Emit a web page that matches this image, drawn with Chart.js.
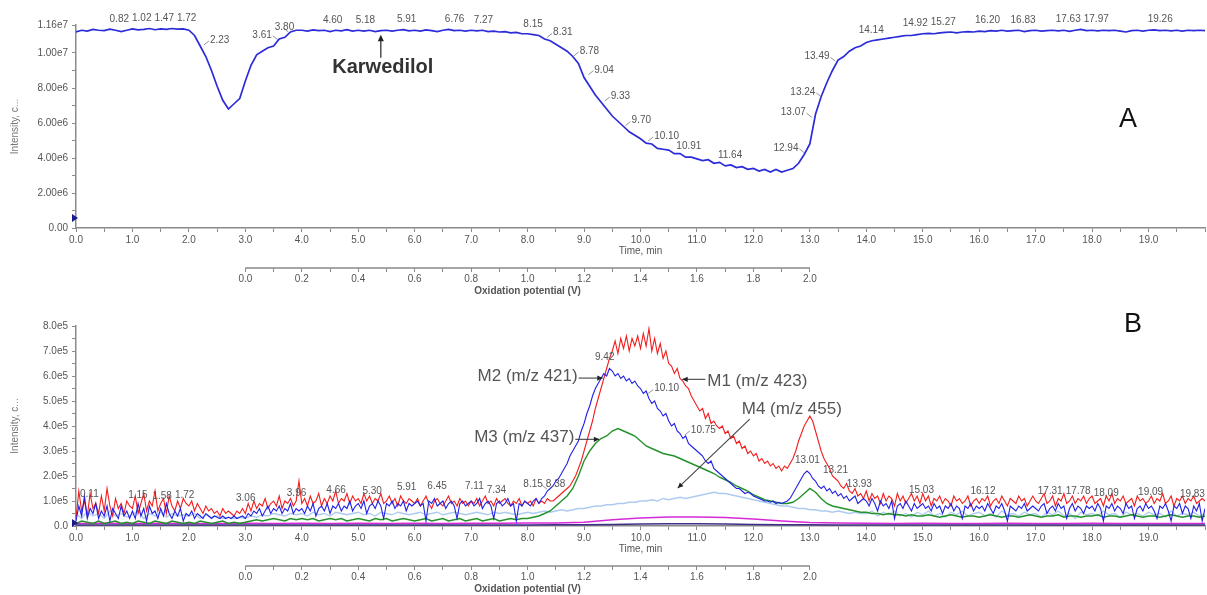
<!DOCTYPE html>
<html>
<head>
<meta charset="utf-8">
<script src="https://cdn.jsdelivr.net/npm/chart.js@4.4.1/dist/chart.umd.min.js"></script>
<style>
  body { margin: 0; background: #fff; }
  #wrap { position: relative; width: 1207px; height: 595px; }
  canvas { position: absolute; left: 0; }
</style>
</head>
<body>
<div id="wrap">
  <canvas id="panelA" width="1207" height="298" style="top:0"></canvas>
  <canvas id="panelB" width="1207" height="297" style="top:298px"></canvas>
</div>
<script>
// time grids the traces were read at (min)
function sampleTimes(step) {
  const n = Math.round(20 / step);
  return Array.from({ length: n + 1 }, (_, i) => +(i * step).toFixed(2));
}
const timesA = sampleTimes(0.1);
const timesFine = sampleTimes(0.05);
const timesB = sampleTimes(0.1);
const timesCoarse = sampleTimes(0.5);

// panel A: karwedilol trace, intensity in 1e6 counts
const karwedilolTrace = [
  11.2, 11.3, 11.25, 11.35, 11.3, 11.28, 11.36, 11.3, 11.22, 11.3,
  11.38, 11.32, 11.35, 11.4, 11.33, 11.38, 11.35, 11.4, 11.36, 11.38,
  11.3, 11.0, 10.4, 9.8, 9.0, 8.1, 7.3, 6.8, 7.1, 7.4,
  8.4, 9.3, 9.9, 10.1, 10.3, 10.4, 10.8, 10.9, 11.2, 11.3,
  11.3, 11.25, 11.32, 11.28, 11.3, 11.22, 11.3, 11.27, 11.33, 11.25,
  11.3, 11.25, 11.3, 11.22, 11.28, 11.3, 11.25, 11.3, 11.34, 11.27,
  11.3, 11.25, 11.32, 11.28, 11.22, 11.3, 11.35, 11.28, 11.3, 11.25,
  11.3, 11.26, 11.3, 11.22, 11.25, 11.2, 11.22, 11.15, 11.18, 11.1,
  11.1, 11.05, 11.0, 10.8, 10.7, 10.5, 10.3, 10.1, 9.8, 9.4,
  8.6, 8.1, 7.6, 7.2, 6.8, 6.4, 6.1, 5.8, 5.5, 5.3,
  5.1, 4.85, 4.8, 4.55, 4.5, 4.45, 4.25, 4.25, 4.05, 4.05,
  3.95, 3.85, 3.9, 3.7, 3.75, 3.55, 3.6, 3.45, 3.5, 3.35,
  3.4, 3.25, 3.35, 3.2, 3.35, 3.2, 3.3, 3.4, 3.7, 4.2,
  4.8, 6.5, 7.5, 8.3, 9.0, 9.6, 9.8, 10.1, 10.3, 10.4,
  10.6, 10.7, 10.75, 10.8, 10.85, 10.9, 10.95, 11.0, 11.0, 11.05,
  11.1, 11.12, 11.1, 11.15, 11.18, 11.2, 11.15, 11.2, 11.22, 11.2,
  11.25, 11.22, 11.28, 11.25, 11.3, 11.25, 11.28, 11.3, 11.22, 11.28,
  11.3, 11.25, 11.28, 11.3, 11.26, 11.3, 11.24, 11.3, 11.35, 11.28,
  11.3, 11.26, 11.3, 11.28, 11.3, 11.25, 11.2, 11.28, 11.3, 11.25,
  11.3, 11.32, 11.28, 11.3, 11.27, 11.3, 11.25, 11.3, 11.28, 11.3,
  11.28
];
const peakLabelsA = [0.82, 1.02, 1.47, 1.72, 2.23, 3.61, 3.80, 4.60, 5.18, 5.91, 6.76, 7.27,
  8.15, 8.31, 8.78, 9.04, 9.33, 9.70, 10.10, 10.91, 11.64, 12.94, 13.07, 13.24, 13.49,
  14.14, 14.92, 15.27, 16.20, 16.83, 17.63, 17.97, 19.26];
const karwedilolTime = 5.4;

// panel B: metabolite traces, intensity in 1e5 counts
const m1Red = [
  0.3, 1.4, 0.6, 1.0, 0.4, 1.3, 0.7, 0.9, 0.5, 1.2, 0.6, 1.5, 0.8, 0.4, 1.1, 0.7, 0.9, 0.5, 1.0, 0.8,
  0.7, 1.2, 0.5, 0.9, 1.3, 0.6, 1.0, 0.8, 1.4, 0.6, 0.9, 1.1, 0.5, 1.2, 0.8, 0.6, 1.0, 0.7, 1.1, 0.9,
  0.8, 1.0, 0.6, 0.9, 0.7, 0.5, 0.8, 0.6, 0.7, 0.5, 0.6, 0.4, 0.7, 0.5, 0.6, 0.5, 0.4, 0.6, 0.5, 0.7,
  0.5, 0.9, 0.6, 1.0, 0.7, 0.9, 0.8, 1.1, 0.7, 0.9, 1.0, 0.8, 1.2, 0.7, 1.0, 0.9, 1.1, 0.8, 1.0, 1.8,
  0.9, 1.1, 0.8, 1.2, 0.9, 1.0, 1.3, 0.8, 1.1, 0.9, 1.2, 1.0, 1.4, 0.9, 1.1, 1.0, 1.3, 0.9, 1.2, 1.0,
  1.1, 0.9, 1.3, 1.0, 1.2, 0.9, 1.1, 1.0, 1.3, 0.9, 1.0, 1.2, 0.9, 1.1, 0.8, 1.2, 1.0, 0.9, 1.1, 1.0,
  0.9, 1.1, 0.8, 1.0, 1.2, 0.9, 0.7, 1.0, 1.1, 0.9, 0.8, 1.0, 1.2, 0.9, 1.0, 0.8, 1.1, 0.9, 1.0, 0.8,
  1.0, 0.9, 1.1, 0.8, 1.0, 1.2, 0.9, 1.0, 0.8, 1.1, 0.9, 1.0, 1.1, 0.9, 0.8, 1.0, 0.9, 1.1, 0.8, 1.0,
  0.9, 1.0, 0.8, 1.1, 0.9, 1.0, 0.9, 1.1, 1.0, 1.0, 1.1, 1.2, 1.3, 1.4, 1.5, 1.6, 1.8, 2.0, 2.3, 2.6,
  3.0, 3.4, 3.8, 4.2, 4.7, 5.1, 5.5, 5.9, 6.3, 6.7, 7.0, 7.4, 6.9, 7.5, 7.1, 7.6, 7.0, 7.5, 7.2, 7.6,
  7.1, 7.7, 7.2, 7.9, 7.0, 7.5, 6.9, 7.3, 6.7, 7.0, 6.5, 6.4, 6.1, 6.3, 5.9, 5.8, 5.6, 5.5, 5.2, 5.0,
  4.8, 4.6, 4.7, 4.3, 4.5, 4.1, 4.2, 4.0, 3.9, 4.0, 3.7, 3.8, 3.5, 3.6, 3.3, 3.4, 3.1, 3.2, 2.9, 3.0,
  2.8, 2.9, 2.6, 2.7, 2.5, 2.6, 2.4, 2.5, 2.3, 2.4, 2.2, 2.4, 2.3, 2.5, 2.7, 3.0, 3.4, 3.7, 4.0, 4.2,
  4.4, 4.2, 3.8, 3.4, 3.0, 2.7, 2.5, 2.3, 2.0, 1.9, 1.8, 1.6, 1.5, 1.7, 1.4, 1.3, 1.5, 1.2, 1.3, 1.1,
  1.4, 1.0, 1.3, 1.1, 1.2, 0.9, 1.3, 1.0, 1.2, 1.1, 0.8, 1.3, 1.0, 1.2, 0.9, 1.1, 1.3, 1.0, 1.2, 0.9,
  1.3, 1.0, 1.2, 0.8, 1.1, 1.0, 1.2, 0.9, 1.1, 1.0, 0.8, 1.2, 1.0, 1.1, 0.9, 1.0, 1.2, 0.8, 1.0, 1.1,
  0.9, 1.1, 1.0, 1.2, 0.8, 1.0, 1.1, 0.9, 1.2, 1.0, 0.8, 1.1, 1.0, 0.9, 1.2, 1.0, 1.1, 0.8, 1.0, 1.2,
  1.0, 0.9, 1.1, 1.3, 0.9, 1.0, 1.2, 0.8, 1.1, 1.0, 1.3, 0.9, 1.0, 1.2, 0.9, 1.1, 1.0, 1.2, 0.9, 1.1,
  1.2, 0.9, 1.0, 1.1, 0.8, 1.2, 1.0, 1.3, 0.9, 1.1, 1.0, 1.2, 0.9, 1.0, 1.1, 0.8, 1.2, 1.0, 1.1, 0.9,
  1.0, 1.2, 0.9, 1.1, 1.0, 1.3, 0.9, 1.0, 1.2, 0.8, 1.1, 1.0, 1.2, 0.9, 1.1, 1.0, 1.2, 0.9, 1.0, 1.1,
  1.0
];
const m2Blue = [
  0.2, 0.8, 0.4, 1.2, 0.3, 0.7, 0.5, 0.9, 0.3, 0.6, 0.4, 0.8, 0.2, 0.7, 0.5, 0.3, 0.8, 0.4, 0.6, 0.3,
  0.6, 0.3, 0.9, 0.4, 0.7, 0.2, 0.8, 0.5, 0.6, 0.3, 0.7, 0.4, 0.9, 0.5, 0.3, 0.6, 0.4, 0.7, 0.2, 0.5,
  0.4, 0.6, 0.3, 0.5, 0.4, 0.3, 0.5, 0.4, 0.3, 0.4, 0.35, 0.3, 0.4, 0.3, 0.35, 0.3, 0.4, 0.3, 0.35, 0.4,
  0.3, 0.5, 0.4, 0.6, 0.5, 0.7, 0.4, 0.6, 0.8, 0.5, 0.7, 0.6, 0.8, 0.5, 0.7, 0.6, 0.9, 0.5, 0.7, 0.6,
  0.7, 0.5, 0.8, 0.6, 0.9, 0.4, 0.7, 0.8, 0.6, 0.9, 0.5, 0.8, 0.7, 0.9, 0.6, 0.8, 0.7, 1.0, 0.6, 0.8,
  0.9, 0.7, 1.0, 0.5, 0.8, 0.9, 0.7, 1.0, 0.8, 0.3, 0.9, 0.8, 1.0, 0.7, 0.9, 0.8, 1.0, 0.6, 0.9, 0.8,
  0.9, 1.0, 0.8, 0.9, 0.2, 1.0, 0.9, 1.1, 0.8, 0.9, 1.0, 0.7, 0.9, 1.0, 0.8, 0.3, 0.9, 1.0, 0.8, 0.9,
  1.0, 0.8, 0.9, 1.1, 0.7, 0.9, 1.0, 0.8, 0.3, 0.9, 1.0, 0.8, 0.9, 1.1, 0.8, 0.9, 0.2, 0.9, 0.8, 1.0,
  0.9, 0.8, 1.0, 1.1, 0.9, 1.1, 1.2, 1.4, 1.5, 1.6, 1.8, 1.9, 2.1, 2.3, 2.5, 2.8, 3.0, 3.2, 3.4, 3.8,
  4.1, 4.5, 4.8, 5.2, 5.5, 5.7, 5.9, 6.1, 6.0, 6.3, 6.2, 6.0, 6.1, 5.9, 6.0, 5.8, 5.9, 5.7, 5.8, 5.6,
  5.5, 5.3, 5.4, 5.1, 4.9, 5.0, 4.7, 4.6, 4.4, 4.5, 4.2, 4.0, 4.1, 3.8, 3.7, 3.5, 3.6, 3.3, 3.2, 3.1,
  3.0, 2.9, 2.8, 2.6, 2.5, 2.6, 2.3, 2.2, 2.1, 2.0, 1.9, 1.8, 1.7, 1.6, 1.5, 1.5, 1.4, 1.3, 1.35, 1.3,
  1.2, 1.15, 1.1, 1.05, 1.0, 1.0, 0.95, 1.0, 0.9, 0.95, 0.9, 0.95, 1.0, 1.1, 1.3, 1.5, 1.7, 1.9, 2.1, 2.2,
  2.1, 1.9, 1.8, 1.6, 1.5, 1.6, 1.4, 1.5, 1.3, 1.4, 1.2, 1.3, 1.1, 1.2, 1.0, 1.1, 1.2, 0.9, 1.0, 1.1,
  1.0, 0.8, 1.1, 0.9, 0.6, 1.0, 0.8, 0.9, 0.7, 1.0, 0.3, 0.8, 0.9, 0.7, 1.0, 0.8, 0.6, 0.9, 0.7, 0.8,
  0.9, 0.7, 0.8, 0.6, 0.9, 0.7, 0.8, 0.5, 0.8, 0.7, 0.9, 0.6, 0.8, 0.7, 0.3, 0.8, 0.7, 0.9, 0.6, 0.8,
  0.7, 0.8, 0.6, 0.9, 0.7, 0.5, 0.8, 0.7, 0.9, 0.6, 0.2, 0.8, 0.7, 0.6, 0.8, 0.7, 0.9, 0.6, 0.7, 0.8,
  0.7, 0.6, 0.8, 0.9, 0.5, 0.7, 0.8, 0.6, 0.9, 0.7, 0.8, 0.3, 0.7, 0.9, 0.6, 0.8, 0.7, 0.5, 0.8, 0.7,
  0.8, 0.6, 0.9, 0.7, 0.2, 0.8, 0.7, 0.9, 0.6, 0.8, 0.7, 0.5, 0.9, 0.7, 0.8, 0.3, 0.7, 0.8, 0.6, 0.9,
  0.7, 0.8, 0.6, 0.3, 0.8, 0.7, 0.9, 0.6, 0.2, 0.8, 0.7, 0.9, 0.5, 0.8, 0.7, 0.3, 0.8, 0.6, 0.9, 0.2,
  0.7
];
const m3Green = [
  0.1, 0.2, 0.15, 0.1, 0.2, 0.1, 0.15, 0.2, 0.1, 0.15,
  0.1, 0.2, 0.15, 0.1, 0.2, 0.15, 0.1, 0.2, 0.15, 0.1,
  0.15, 0.1, 0.2, 0.15, 0.1, 0.15, 0.2, 0.1, 0.15, 0.1,
  0.15, 0.2, 0.25, 0.2, 0.25, 0.3, 0.25, 0.2, 0.3, 0.25,
  0.3, 0.25, 0.3, 0.2, 0.25, 0.3, 0.25, 0.3, 0.2, 0.25,
  0.3, 0.25, 0.2, 0.3, 0.25, 0.3, 0.2, 0.25, 0.3, 0.25,
  0.2, 0.25, 0.3, 0.2, 0.25, 0.3, 0.2, 0.25, 0.3, 0.2,
  0.25, 0.3, 0.2, 0.25, 0.3, 0.2, 0.25, 0.3, 0.25, 0.3,
  0.3, 0.35, 0.4, 0.5, 0.6, 0.8, 1.0, 1.2, 1.5, 2.0,
  2.6, 3.0, 3.3, 3.5, 3.6, 3.8, 3.9, 3.8, 3.7, 3.6,
  3.4, 3.2, 3.1, 3.0, 2.9, 2.85, 2.8, 2.7, 2.6, 2.5,
  2.4, 2.3, 2.2, 2.1, 1.95, 1.85, 1.75, 1.6, 1.5, 1.4,
  1.25, 1.15, 1.05, 1.0, 0.95, 0.9, 0.9, 0.95, 1.1, 1.3,
  1.5, 1.35, 1.1, 0.9, 0.8, 0.75, 0.7, 0.65, 0.6, 0.55,
  0.55, 0.5, 0.5, 0.45, 0.5, 0.45, 0.45, 0.4, 0.45, 0.4,
  0.4, 0.45, 0.4, 0.35, 0.4, 0.45, 0.4, 0.35, 0.4, 0.4,
  0.35, 0.4, 0.45, 0.4, 0.35, 0.4, 0.4, 0.35, 0.4, 0.45,
  0.4, 0.35, 0.4, 0.4, 0.45, 0.35, 0.4, 0.4, 0.35, 0.4,
  0.4, 0.45, 0.35, 0.4, 0.4, 0.35, 0.4, 0.45, 0.4, 0.35,
  0.4, 0.4, 0.35, 0.4, 0.45, 0.4, 0.35, 0.4, 0.4, 0.35,
  0.4
];
const m4LightBlue = [
  0.5, 0.3, 0.6, 0.4, 0.5, 0.3, 0.6, 0.4, 0.5, 0.35,
  0.45, 0.6, 0.3, 0.5, 0.4, 0.55, 0.35, 0.5, 0.4, 0.45,
  0.4, 0.5, 0.3, 0.45, 0.35, 0.4, 0.3, 0.35, 0.3, 0.35,
  0.3, 0.4, 0.35, 0.45, 0.4, 0.5, 0.45, 0.4, 0.5, 0.45,
  0.5, 0.4, 0.55, 0.45, 0.5, 0.4, 0.55, 0.5, 0.45, 0.5,
  0.55, 0.45, 0.5, 0.4, 0.55, 0.5, 0.45, 0.55, 0.5, 0.45,
  0.5, 0.55, 0.45, 0.5, 0.55, 0.45, 0.5, 0.55, 0.5, 0.45,
  0.5, 0.55, 0.5, 0.45, 0.55, 0.5, 0.55, 0.5, 0.45, 0.5,
  0.55, 0.5, 0.55, 0.6, 0.55, 0.6, 0.65, 0.6, 0.65, 0.7,
  0.7, 0.75, 0.8, 0.8, 0.85, 0.85, 0.9, 0.9, 0.95, 0.95,
  1.0, 1.0, 1.05, 1.0, 1.1, 1.05, 1.1, 1.15, 1.1, 1.15,
  1.2, 1.25, 1.3, 1.35, 1.3, 1.3, 1.25, 1.2, 1.15, 1.1,
  1.05, 1.0, 0.95, 0.9, 0.85, 0.8, 0.8, 0.75, 0.7, 0.7,
  0.65, 0.65, 0.6, 0.6, 0.55, 0.6, 0.55, 0.5, 0.55, 0.5,
  0.5, 0.6, 0.4, 0.55, 0.45, 0.6, 0.4, 0.5, 0.35, 0.55,
  0.45, 0.6, 0.4, 0.5, 0.35, 0.55, 0.45, 0.6, 0.4, 0.5,
  0.55, 0.4, 0.5, 0.35, 0.6, 0.45, 0.5, 0.4, 0.55, 0.45,
  0.5, 0.35, 0.55, 0.45, 0.6, 0.4, 0.5, 0.3, 0.55, 0.45,
  0.5, 0.4, 0.6, 0.45, 0.5, 0.35, 0.55, 0.45, 0.5, 0.4,
  0.55, 0.45, 0.5, 0.35, 0.6, 0.4, 0.5, 0.45, 0.55, 0.4,
  0.5
];
const magentaTrace = [
  0.1, 0.11, 0.1, 0.11, 0.1, 0.1, 0.11, 0.1, 0.11, 0.1,
  0.11, 0.1, 0.11, 0.1, 0.11, 0.11, 0.12, 0.12, 0.15, 0.25,
  0.32, 0.36, 0.36, 0.34, 0.28, 0.2, 0.14, 0.12, 0.11, 0.1,
  0.11, 0.1, 0.1, 0.11, 0.1, 0.1, 0.11, 0.1, 0.1, 0.1,
  0.1
];
const darkTrace = [
  0.04, 0.04, 0.04, 0.04, 0.04, 0.04, 0.04, 0.04, 0.04, 0.04,
  0.04, 0.04, 0.04, 0.04, 0.04, 0.04, 0.04, 0.05, 0.05, 0.06,
  0.08, 0.09, 0.09, 0.08, 0.06, 0.05, 0.05, 0.04, 0.04, 0.04,
  0.04, 0.04, 0.04, 0.04, 0.04, 0.04, 0.04, 0.04, 0.04, 0.04,
  0.04
];
const peakLabelsB = [0.11, 1.15, 1.58, 1.72, 3.06, 3.96, 4.66, 5.30, 5.91, 6.45, 7.11, 7.34,
  8.15, 8.38, 9.42, 10.10, 10.75, 13.01, 13.21, 13.93, 15.03, 16.12, 17.31, 17.78, 18.09,
  19.09, 19.83];
const metaboliteTags = [
  { text: 'M2 (m/z 421)', series: 'm2', time: 9.33, side: 'left' },
  { text: 'M1 (m/z 423)', series: 'm1', time: 10.74, side: 'right' },
  { text: 'M3 (m/z 437)', series: 'm3', time: 9.27, side: 'left' },
  { text: 'M4 (m/z 455)', series: 'm4', time: 10.66, side: 'up' }
];

// oxidation potential axis: 0 V at 3 min, 0.2 V per min
const potentialStartTime = 3;
const voltsPerMin = 0.2;

const AXIS_GRAY = '#8a8a8a';
const TEXT_GRAY = '#555';
const FONT = 'Arial, "Liberation Sans", Helvetica, sans-serif';

function toPoints(times, vals) {
  return vals.map((v, i) => ({ x: times[i], y: v }));
}

function smoothAt(times, vals, t, half) {
  let s = 0, n = 0;
  times.forEach((tt, i) => {
    if (Math.abs(tt - t) <= half + 1e-9) { s += vals[i]; n++; }
  });
  return n ? s / n : 0;
}

function arrowHead(ctx, tx, ty, fx, fy, size) {
  const a = Math.atan2(ty - fy, tx - fx);
  ctx.beginPath();
  ctx.moveTo(tx, ty);
  ctx.lineTo(tx - size * Math.cos(a - 0.45), ty - size * Math.sin(a - 0.45));
  ctx.lineTo(tx - size * Math.cos(a + 0.45), ty - size * Math.sin(a + 0.45));
  ctx.closePath();
  ctx.fill();
}

function peakLabels(id, labels, times, vals, range, lift, edge) {
  return {
    id,
    afterDatasetsDraw(chart) {
      const { ctx, scales: { x, y } } = chart;
      ctx.save();
      ctx.font = '10px ' + FONT;
      ctx.fillStyle = TEXT_GRAY;
      ctx.strokeStyle = '#777';
      ctx.lineWidth = 0.8;
      ctx.textAlign = 'left';
      ctx.textBaseline = 'middle';
      const boxes = [];
      labels.forEach(t => {
        const v = smoothAt(times, vals, t, 0.15);
        const rel = (smoothAt(times, vals, t + 0.2, 0.1) - smoothAt(times, vals, t - 0.2, 0.1)) / range;
        const px = x.getPixelForValue(t);
        const py = y.getPixelForValue(v);
        const txt = t.toFixed(2);
        const w = ctx.measureText(txt).width;
        let left, cy;
        ctx.beginPath();
        if (rel < -edge) {
          ctx.moveTo(px + 2, py - 1); ctx.lineTo(px + 7, py - 5); ctx.stroke();
          left = px + 8; cy = py - 6;
        } else if (rel > edge) {
          ctx.moveTo(px - 2, py - 1); ctx.lineTo(px - 7, py - 5); ctx.stroke();
          left = px - 8 - w; cy = py - 6;
        } else {
          left = px - 3 - w / 2; cy = py - lift - 4;
        }
        left = Math.max(left, chart.chartArea.left + 4);
        // nudge right while it collides with a label already drawn
        let moved = true;
        while (moved) {
          moved = false;
          boxes.forEach(b => {
            if (left < b.r + 2 && left + w > b.l - 2 && Math.abs(cy - b.cy) < 10) {
              left = b.r + 3; moved = true;
            }
          });
        }
        boxes.push({ l: left, r: left + w, cy });
        ctx.fillText(txt, left, cy);
      });
      ctx.restore();
    }
  };
}

// potential axis line + title, and the small start marker on the y axis
const potentialAxis = {
  id: 'potentialAxis',
  afterDraw(chart) {
    const { ctx } = chart;
    const s = chart.scales.x2;
    const x0 = s.getPixelForValue(0);
    const x1 = s.getPixelForValue(2);
    ctx.save();
    ctx.strokeStyle = AXIS_GRAY;
    ctx.lineWidth = 1.5;
    ctx.beginPath();
    ctx.moveTo(x0, s.top);
    ctx.lineTo(x1, s.top);
    ctx.stroke();
    ctx.fillStyle = TEXT_GRAY;
    ctx.font = 'bold 10px ' + FONT;
    ctx.textAlign = 'center';
    ctx.textBaseline = 'middle';
    ctx.fillText('Oxidation potential (V)', (x0 + x1) / 2, s.top + 23);
    // start marker
    const a = chart.chartArea;
    const my = a.bottom - (chart.canvas.id === 'panelA' ? 10 : 3);
    ctx.fillStyle = '#1a1a8c';
    ctx.beginPath();
    ctx.moveTo(a.left - 4, my - 4);
    ctx.lineTo(a.left + 2, my);
    ctx.lineTo(a.left - 4, my + 4);
    ctx.closePath();
    ctx.fill();
    ctx.restore();
  }
};

function axes(yOpts, x2Height) {
  const tickFont = { family: FONT, size: 10 };
  return {
    x: {
      type: 'linear', position: 'bottom', min: 0, max: 20, weight: 0,
      afterFit: s => { s.height = 40; },
      border: { color: AXIS_GRAY, width: 1.5 },
      grid: { drawOnChartArea: false, color: AXIS_GRAY, tickLength: 4 },
      ticks: {
        stepSize: 0.5, autoSkip: false, minRotation: 0, maxRotation: 0, padding: 2,
        color: TEXT_GRAY, font: tickFont,
        callback: v => (Number.isInteger(v) && v < 20) ? v.toFixed(1) : ''
      },
      title: { display: true, text: 'Time, min', color: TEXT_GRAY, font: tickFont, padding: { top: 0, bottom: 11 } }
    },
    x2: {
      type: 'linear', position: 'bottom', weight: 1,
      min: (0 - potentialStartTime) * voltsPerMin,
      max: (20 - potentialStartTime) * voltsPerMin,
      afterFit: s => { s.height = x2Height; },
      border: { display: false },
      grid: {
        drawOnChartArea: false, tickLength: 4,
        color: ctx => {
          const k = Math.round(ctx.tick.value * 10);
          return (k >= 0 && k <= 20) ? AXIS_GRAY : 'rgba(0,0,0,0)';
        }
      },
      ticks: {
        stepSize: 0.1, autoSkip: false, minRotation: 0, maxRotation: 0, padding: 1,
        color: TEXT_GRAY, font: tickFont,
        callback: v => {
          const k = Math.round(v * 10);
          return (k >= 0 && k <= 20 && k % 2 === 0) ? (k / 10).toFixed(1) : '';
        }
      }
    },
    y: Object.assign({
      type: 'linear', position: 'left', min: 0,
      afterFit: s => { s.width = 76; },
      border: { color: AXIS_GRAY, width: 1.5 },
      grid: { drawOnChartArea: false, color: AXIS_GRAY, tickLength: 4 },
      title: { display: true, text: 'Intensity, c...', color: '#777', font: tickFont, padding: { top: 9, bottom: 0 } }
    }, yOpts)
  };
}

function baseOptions(padTop, scales) {
  return {
    responsive: false,
    animation: false,
    events: [],
    layout: { padding: { top: padTop, right: 1, left: 0, bottom: 0 } },
    elements: { point: { radius: 0 }, line: { tension: 0 } },
    plugins: { legend: { display: false }, tooltip: { enabled: false } },
    scales
  };
}

// ---------- panel A ----------
const yMaxA = 11.6;
const fmtA = v => v === 0 ? '0.00' : (v >= 10 ? (v / 10).toFixed(2) + 'e7' : v.toFixed(2) + 'e6');

const annotA = {
  id: 'annotA',
  afterDatasetsDraw(chart) {
    const { ctx, scales: { x, y } } = chart;
    const px = x.getPixelForValue(karwedilolTime);
    const py = y.getPixelForValue(smoothAt(timesA, karwedilolTrace, karwedilolTime, 0.15));
    ctx.save();
    ctx.strokeStyle = '#222';
    ctx.fillStyle = '#222';
    ctx.lineWidth = 1.2;
    ctx.beginPath();
    ctx.moveTo(px, py + 27);
    ctx.lineTo(px, py + 8);
    ctx.stroke();
    arrowHead(ctx, px, py + 4, px, py + 27, 7);
    ctx.font = 'bold 20px ' + FONT;
    ctx.fillStyle = '#333';
    ctx.textAlign = 'center';
    ctx.textBaseline = 'middle';
    ctx.fillText('Karwedilol', px + 2, py + 37);
    ctx.font = '27px ' + FONT;
    ctx.fillStyle = '#111';
    ctx.fillText('A', 1128, 120);
    ctx.restore();
  }
};

new Chart(document.getElementById('panelA'), {
  type: 'line',
  data: {
    datasets: [{
      data: toPoints(timesA, karwedilolTrace),
      borderColor: '#2b2bd9',
      borderWidth: 1.7
    }]
  },
  options: baseOptions(25, axes({
    max: yMaxA,
    ticks: {
      stepSize: 1, autoSkip: false, padding: 4, color: TEXT_GRAY, font: { family: FONT, size: 10 },
      callback: v => (v === yMaxA || v % 2 === 0) ? fmtA(v) : ''
    }
  }, 30)),
  plugins: [peakLabels('peaksA', peakLabelsA, timesA, karwedilolTrace, yMaxA, 7, 0.045), annotA, potentialAxis]
});

// ---------- panel B ----------
const yMaxB = 8;
const seriesB = {
  m1: { times: timesFine, vals: m1Red },
  m2: { times: timesFine, vals: m2Blue },
  m3: { times: timesB, vals: m3Green },
  m4: { times: timesB, vals: m4LightBlue }
};

const annotB = {
  id: 'annotB',
  afterDatasetsDraw(chart) {
    const { ctx, scales: { x, y } } = chart;
    ctx.save();
    ctx.font = '17px ' + FONT;
    ctx.fillStyle = '#555';
    ctx.strokeStyle = '#444';
    ctx.lineWidth = 1.1;
    ctx.textBaseline = 'middle';
    metaboliteTags.forEach(tag => {
      const s = seriesB[tag.series];
      const px = x.getPixelForValue(tag.time);
      const py = y.getPixelForValue(smoothAt(s.times, s.vals, tag.time, 0.15));
      let fx, fy, tx = px, ty = py;
      if (tag.side === 'left') {
        fx = px - 24; fy = py;
        ctx.textAlign = 'right';
        ctx.fillText(tag.text, px - 25, py - 2);
      } else if (tag.side === 'right') {
        fx = px + 23; fy = py;
        ctx.textAlign = 'left';
        ctx.fillText(tag.text, px + 25, py + 2);
      } else {
        ty = py - 10;
        fx = px + 72; fy = py - 79;
        ctx.textAlign = 'left';
        ctx.fillText(tag.text, px + 64, py - 89);
      }
      ctx.beginPath();
      ctx.moveTo(fx, fy);
      ctx.lineTo(tx, ty);
      ctx.stroke();
      ctx.fillStyle = '#222';
      arrowHead(ctx, tx, ty, fx, fy, 6);
      ctx.fillStyle = '#555';
    });
    ctx.font = '27px ' + FONT;
    ctx.fillStyle = '#111';
    ctx.textAlign = 'center';
    ctx.fillText('B', 1133, 27);
    ctx.restore();
  }
};

new Chart(document.getElementById('panelB'), {
  type: 'line',
  data: {
    datasets: [
      { data: toPoints(timesFine, m2Blue), borderColor: '#2020e6', borderWidth: 1.1, order: 1 },
      { data: toPoints(timesFine, m1Red), borderColor: '#f21d1d', borderWidth: 1.1, order: 2 },
      { data: toPoints(timesB, m3Green), borderColor: '#23922a', borderWidth: 1.4, order: 3 },
      { data: toPoints(timesCoarse, darkTrace), borderColor: '#3d2f87', borderWidth: 1.5, order: 4 },
      { data: toPoints(timesCoarse, magentaTrace), borderColor: '#d62ad6', borderWidth: 1.5, order: 5 },
      { data: toPoints(timesB, m4LightBlue), borderColor: '#aecbef', borderWidth: 1.3, order: 6 }
    ]
  },
  options: baseOptions(28, axes({
    max: yMaxB,
    ticks: {
      stepSize: 0.5, autoSkip: false, padding: 4, color: TEXT_GRAY, font: { family: FONT, size: 10 },
      callback: v => Number.isInteger(v) ? (v === 0 ? '0.0' : v.toFixed(1) + 'e5') : ''
    }
  }, 29)),
  plugins: [peakLabels('peaksB', peakLabelsB, timesFine, m2Blue, yMaxB, 13, 0.085), annotB, potentialAxis]
});
</script>
</body>
</html>
